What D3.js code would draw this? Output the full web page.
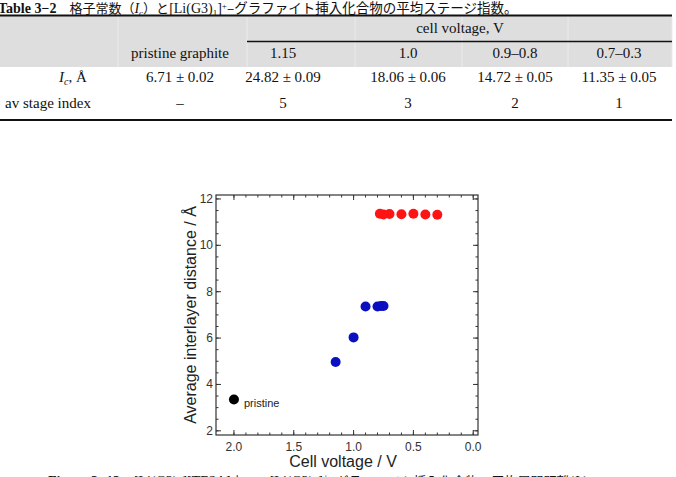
<!DOCTYPE html>
<html>
<head>
<meta charset="utf-8">
<script src="https://cdn.jsdelivr.net/npm/d3@7"></script>
<style>
  body { margin: 0; background: #fff; }
</style>
</head>
<body>
<script>
// table data
const colHeads = ["pristine graphite", "1.15", "1.0", "0.9–0.8", "0.7–0.3"];
const icValues = ["6.71 ± 0.02", "24.82 ± 0.09", "18.06 ± 0.06", "14.72 ± 0.05", "11.35 ± 0.05"];
const stageValues = ["–", "5", "3", "2", "1"];

// chart data (cell voltage V, average interlayer distance Å)
const pristine = [[2.0, 3.35]];
const bluePts = [[1.15, 4.97], [1.0, 6.03], [0.9, 7.36], [0.8, 7.36], [0.77, 7.38], [0.75, 7.38]];
const redPts = [[0.78, 11.36], [0.75, 11.33], [0.70, 11.35], [0.60, 11.34], [0.50, 11.36], [0.40, 11.33], [0.30, 11.32]];
const xTicks = [2.0, 1.5, 1.0, 0.5, 0.0];
const yTicks = [2, 4, 6, 8, 10, 12];

const svg = d3.select("body").append("svg")
  .attr("width", 676)
  .attr("height", 477);

// ---------- table ----------
const serif = "'Liberation Serif', 'Times New Roman', serif";
const cjk = "'Noto Sans CJK JP', sans-serif";

const title = svg.append("text")
  .attr("x", -2).attr("y", 13)
  .attr("font-family", serif).attr("font-size", "14px").attr("fill", "#111");
title.append("tspan").attr("font-weight", "bold").text("Table 3−2");
title.append("tspan").attr("font-family", cjk).attr("font-size", "13px").text("　格子常数（");
title.append("tspan").attr("font-style", "italic").text("I");
title.append("tspan").attr("font-style", "italic").attr("font-size", "9px").attr("dy", 3).text("c");
title.append("tspan").attr("font-family", cjk).attr("font-size", "13px").attr("dy", -3).text("）と");
title.append("tspan").text("[Li(G3)");
title.append("tspan").attr("font-size", "9px").attr("dy", 3).text("1");
title.append("tspan").attr("dy", -3).text("]");
title.append("tspan").attr("font-size", "9px").attr("dy", -4).text("+");
title.append("tspan").attr("font-family", cjk).attr("font-size", "13.5px").attr("dy", 4).text("–グラファイト挿入化合物の平均ステージ指数。");

// column layout
const colEdges = [118, 247, 355, 462, 568, 672];
const cx = i => [180, 283, 408, 515, 619][i];

svg.append("rect").attr("x", 0).attr("y", 16).attr("width", 672).attr("height", 51).attr("fill", "#dedede");
svg.selectAll(".sep").data(colEdges).enter().append("line")
  .attr("x1", d => d).attr("x2", d => d).attr("y1", 17).attr("y2", 67)
  .attr("stroke", "#ebebeb").attr("stroke-width", 1);

svg.append("line").attr("x1", 0).attr("x2", 672).attr("y1", 15.5).attr("y2", 15.5)
  .attr("stroke", "#111").attr("stroke-width", 2);
svg.append("line").attr("x1", 247).attr("x2", 672).attr("y1", 41.5).attr("y2", 41.5)
  .attr("stroke", "#111").attr("stroke-width", 1.3);
svg.append("line").attr("x1", 0).attr("x2", 672).attr("y1", 120).attr("y2", 120)
  .attr("stroke", "#111").attr("stroke-width", 2.2);

svg.append("text").attr("x", 460).attr("y", 33).attr("text-anchor", "middle")
  .attr("font-family", serif).attr("font-size", "15px").attr("fill", "#111")
  .text("cell voltage, V");

function row(vals, yy) {
  svg.selectAll(null).data(vals).enter().append("text")
    .attr("x", (d, i) => cx(i))
    .attr("y", yy)
    .attr("text-anchor", "middle")
    .attr("font-family", serif).attr("font-size", "15px").attr("fill", "#111")
    .text(d => d);
}
row(colHeads, 58);
row(icValues, 82);
row(stageValues, 108);

const ic = svg.append("text").attr("x", 73).attr("y", 82).attr("text-anchor", "middle")
  .attr("font-family", serif).attr("font-size", "15px").attr("fill", "#111");
ic.append("tspan").attr("font-style", "italic").text("I");
ic.append("tspan").attr("font-style", "italic").attr("font-size", "10px").attr("dy", 3).text("c");
ic.append("tspan").attr("dy", -3).text(", Å");
svg.append("text").attr("x", 48).attr("y", 108).attr("text-anchor", "middle")
  .attr("font-family", serif).attr("font-size", "15px").attr("fill", "#111")
  .text("av stage index");

// ---------- chart ----------
const pLeft = 216, pRight = 478, pTop = 195, pBottom = 435;
const sans = "'Liberation Sans', Arial, sans-serif";

const x = d3.scaleLinear().domain([2.15, -0.04]).range([pLeft, pRight]);
const y = d3.scaleLinear().domain([1.82, 12.17]).range([pBottom, pTop]);

const g = svg.append("g");

g.append("rect").attr("x", pLeft).attr("y", pTop)
  .attr("width", pRight - pLeft).attr("height", pBottom - pTop)
  .attr("fill", "none").attr("stroke", "#333").attr("stroke-width", 1.2);

const xMinor = d3.range(0, 21).map(i => i / 10);
const yMinor = d3.range(4, 25).map(i => i / 2);

function xt(vals, len, yy, dir) {
  g.selectAll(null).data(vals).enter().append("line")
    .attr("x1", d => x(d)).attr("x2", d => x(d))
    .attr("y1", yy).attr("y2", yy + dir * len)
    .attr("stroke", "#333").attr("stroke-width", 1);
}
function yt(vals, len, xx, dir) {
  g.selectAll(null).data(vals).enter().append("line")
    .attr("y1", d => y(d)).attr("y2", d => y(d))
    .attr("x1", xx).attr("x2", xx + dir * len)
    .attr("stroke", "#333").attr("stroke-width", 1);
}
xt(xMinor, 2.5, pBottom, -1); xt(xMinor, 2.5, pTop, 1);
xt(xTicks, 5, pBottom, -1); xt(xTicks, 5, pTop, 1);
yt(yMinor, 2.5, pLeft, 1); yt(yMinor, 2.5, pRight, -1);
yt(yTicks, 5, pLeft, 1); yt(yTicks, 5, pRight, -1);

g.selectAll(null).data(xTicks).enter().append("text")
  .attr("x", d => x(d)).attr("y", pBottom + 16)
  .attr("text-anchor", "middle")
  .attr("font-family", sans).attr("font-size", "12px").attr("fill", "#333")
  .text(d => d.toFixed(1));
g.selectAll(null).data(yTicks).enter().append("text")
  .attr("x", pLeft - 3).attr("y", d => y(d) + 4)
  .attr("text-anchor", "end")
  .attr("font-family", sans).attr("font-size", "12px").attr("fill", "#333")
  .text(d => d);

g.append("text").attr("x", 343).attr("y", 467).attr("text-anchor", "middle")
  .attr("font-family", sans).attr("font-size", "16px").attr("fill", "#222")
  .text("Cell voltage / V");
g.append("text")
  .attr("transform", "translate(196," + ((pTop + pBottom) / 2) + ") rotate(-90)")
  .attr("text-anchor", "middle")
  .attr("font-family", sans).attr("font-size", "16px").attr("fill", "#222")
  .text("Average interlayer distance / Å");

function dots(data, color) {
  g.selectAll(null).data(data).enter().append("circle")
    .attr("cx", d => x(d[0])).attr("cy", d => y(d[1]))
    .attr("r", 5).attr("fill", color);
}
dots(pristine, "#000");
dots(bluePts, "#0a10c0");
dots(redPts, "#ff1414");

g.append("text").attr("x", x(pristine[0][0]) + 10).attr("y", y(pristine[0][1]) + 7)
  .attr("font-family", sans).attr("font-size", "11px").attr("fill", "#222")
  .text("pristine");

// ---------- caption (cut off at bottom, as in the source page) ----------
const cap = svg.append("text").attr("x", 48).attr("y", 486)
  .attr("font-family", serif).attr("font-size", "14px").attr("fill", "#111");
cap.append("tspan").attr("font-weight", "bold").text("Figure 3−13");
cap.append("tspan").text("　[Li(G3)");
cap.append("tspan").attr("font-size", "10px").attr("dy", 3).text("1");
cap.append("tspan").attr("dy", -3).text("][TFSA]");
cap.append("tspan").attr("font-family", cjk).attr("font-size", "13px").text("中での");
cap.append("tspan").text("[Li(G3)");
cap.append("tspan").attr("font-size", "10px").attr("dy", 3).text("1");
cap.append("tspan").attr("dy", -3).text("]");
cap.append("tspan").attr("font-size", "10px").attr("dy", -5).text("+");
cap.append("tspan").attr("font-family", cjk).attr("font-size", "13px").attr("dy", 5).text("–グラファイト挿入化合物の平均層間距離");
cap.append("tspan").text("(");
cap.append("tspan").attr("font-style", "italic").text("I");
cap.append("tspan").attr("font-style", "italic").attr("font-size", "10px").attr("dy", 3).text("c");
cap.append("tspan").attr("dy", -3).text(")");
</script>
</body>
</html>
